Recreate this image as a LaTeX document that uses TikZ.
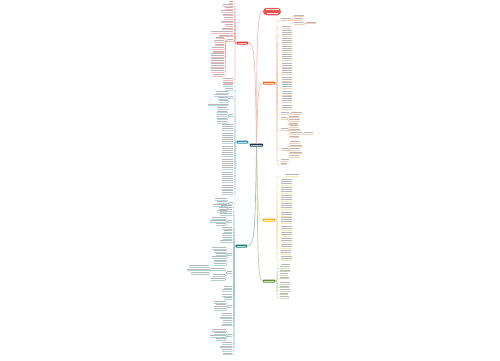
\documentclass[tikz,border=0pt]{standalone}
\usetikzlibrary{calc}
\definecolor{navyB}{HTML}{16324D}
\definecolor{redB}{HTML}{E53935}
\definecolor{oraB}{HTML}{E8702A}
\definecolor{yelB}{HTML}{EDB41A}
\definecolor{grnB}{HTML}{5E8F32}
\definecolor{teaB}{HTML}{2C8DB5}
\definecolor{tgrB}{HTML}{1B7F6E}
\tikzset{
  conn/.style={line width=0.25pt, rounded corners=0.02cm},
  tbar/.style={fill=black!28},
  bnode/.style={rectangle, inner sep=0pt, minimum width=0.24cm, minimum height=0.06cm, rounded corners=0.3pt},
  mainconn/.style={line width=0.4pt},
}
\newcommand\myRgrp[4]{%
  \coordinate (sp) at (#2,0);
  \foreach \a/\b/\w/\n in {#4}{%
    \coordinate (lf) at (\a,\b);
    \draw[conn,#3!45] (#1) -- (#1 -| sp) |- (lf);
    \draw[#3!35,line width=0.3pt] (lf) -- ++(\w,0);
    \foreach \j in {1,...,\n}{\pgfmathsetmacro\yy{\b-0.8-(\j-1)*2.3}\fill[tbar] (\a,\yy) rectangle ++(\w,-0.9);}
  }}
\newcommand\myLgrp[4]{%
  \coordinate (sp) at (#2,0);
  \foreach \a/\b/\w/\n in {#4}{%
    \coordinate (lf) at (\a,\b);
    \draw[conn,#3!45] (#1) -- (#1 -| sp) |- (lf);
    \draw[#3!35,line width=0.3pt] (lf) -- ++(-\w,0);
    \foreach \j in {1,...,\n}{\pgfmathsetmacro\yy{\b-0.8-(\j-1)*2.3}\pgfmathsetmacro\xx{\a-\w}\fill[tbar] (\xx,\yy) rectangle ++(\w,-0.9);}
  }}
\newcommand\myWbar[1]{\fill[white,opacity=0.7] ($(#1.west)+(1.5,0.45)$) rectangle ($(#1.east)+(-1.5,-0.45)$);}
\begin{document}
\begin{tikzpicture}[x=0.02cm,y=-0.02cm]
\fill[white] (0,0) rectangle (500,360);
\useasboundingbox (0,0) rectangle (500,360);

% main nodes
\node[bnode,fill=navyB,minimum width=0.26cm] (C) at (256.5,145) {};
\node[bnode,fill=redB!85,minimum width=0.36cm,minimum height=0.15cm,rounded corners=2.2pt] (T0) at (272,11.5) {};
\node[bnode,fill=oraB] (O) at (269,83) {};
\node[bnode,fill=yelB] (Y) at (269,220) {};
\node[bnode,fill=grnB] (G) at (269,281) {};
\node[bnode,fill=redB,minimum width=0.22cm] (R) at (242.5,43) {};
\node[bnode,fill=teaB,minimum width=0.22cm] (T) at (242.5,142) {};
\node[bnode,fill=tgrB,minimum width=0.22cm] (TG) at (241.5,246) {};

% main connectors
\draw[mainconn,redB!35] (C.north) .. controls (257,60) and (256,11.5) .. (T0.west);
\draw[mainconn,oraB!45] (C.north) .. controls (258,110) and (257,83) .. (O.west);
\draw[mainconn,yelB!45] (C.south) .. controls (258,190) and (257,220) .. (Y.west);
\draw[mainconn,grnB!45] (C.south) .. controls (258,240) and (257,281) .. (G.west);
\draw[mainconn,redB!35] (C.north) .. controls (255,60) and (255,43) .. (R.east);
\draw[mainconn,teaB!50] (C.west) .. controls (249,145) and (249,142) .. (T.east);
\draw[mainconn,tgrB!45] (C.south) .. controls (255,230) and (255,246) .. (TG.east);

% labels (white text bars)
\myWbar{C}\myWbar{O}\myWbar{Y}\myWbar{G}\myWbar{R}\myWbar{T}\myWbar{TG}
\fill[white,opacity=0.8] (265.5,9.3) rectangle (278.5,10.3);
\fill[white,opacity=0.8] (266.5,12.5) rectangle (277.5,13.5);

% ---------- orange branch ----------
\myRgrp{O.east}{277}{oraB}{281/20/10/1, 282/28/9/1, 282/36/10/3, 282/44/10/3, 282/52/10/3, 282/60/10/3, 282/67/10/2, 282/74/10/3, 282/81/10/2, 282/88/10/3, 282/95/10/2, 282/102/10/3, 282/109/10/2, 281/114/8/1, 281/119/6/1, 281/130/7/1, 281/150/7/1, 281/161/8/1, 281/164.5/6/1}
\coordinate (oa) at (291,20);
\myRgrp{oa}{292.5}{oraB}{294/16.5/10/1, 294/20/9/1, 294/24/10/1}
\coordinate (oa3) at (304,24);
\myRgrp{oa3}{305}{oraB}{306/23.5/10/1}
\coordinate (ob) at (289,114);
\myRgrp{ob}{290}{oraB}{291/114/11/1}
\coordinate (oc) at (287,119);
\myRgrp{oc}{288}{oraB}{289/117.5/10/1, 289/121/11/1, 289/124.5/9/1}
\coordinate (od) at (288,130);
\myRgrp{od}{289}{oraB}{290/127/8/1, 290/130.5/10/1, 290/134/12/1, 290/137.5/9/1}
\coordinate (od3) at (302,134);
\myRgrp{od3}{303}{oraB}{304/134/9/1}
\coordinate (oe) at (288,150);
\myRgrp{oe}{289}{oraB}{290/143/10/1, 290/146.5/12/1, 290/150/10/1, 290/153.5/12/1, 290/157/9/1}

% ---------- yellow branch ----------
\myRgrp{Y.east}{277}{yelB}{285/176/14/1, 281/185/11/3, 281/193/11/3, 281/201/11/3, 281/209/11/3, 281/216/11/2, 281/223/11/3, 281/230/11/2, 281/236/11/2, 281/242/11/2, 281/248/11/2, 281/254/10/2, 281/260/11/2, 281/266/9/1}

% ---------- green branch ----------
\myRgrp{G.east}{277}{grnB}{280/268/9/1, 280/271.5/10/1, 280/275/8/1, 280/278.5/9/1, 280/284/10/1, 280/287.5/9/1, 280/291/10/1, 280/294.5/8/1, 280/298/9/1}

% ---------- red left branch ----------
\myLgrp{R.west}{235}{redB}{233/3/4/1, 233/6/10/1, 233/9/8/1, 233/12/12/1, 233/15.5/10/1, 233/19/9/1, 233/22.5/12/1, 233/26/8/1, 233/29.5/11/1, 233/33/22/1, 233/36.5/14/1, 233/41/6/1, 233/80/10/1, 233/83.5/9/1}
\coordinate (rs) at (227,41);
\myLgrp{rs}{225.5}{redB}{224/38.5/8/1, 224/42/10/1, 224/45.5/9/1, 224/49/12/1, 224/52.5/11/1, 224/57/13/2, 224/62/13/2, 224/67/13/2, 224/72/13/2, 224/76/11/1}

% ---------- teal left branch ----------
\myLgrp{T.west}{235}{teaB}{233/86/10/2, 233/90/8/1, 233/98/3/1, 233/116/4/1, 233/130/11/3, 233/137/11/2, 233/143/11/3, 233/150/11/2, 233/156/11/3, 233/163/11/2, 233/169/11/3, 233/176/11/2, 233/182/11/3, 233/189/11/2, 233/194/11/2, 233/204/4/1}
\coordinate (ts1) at (230,98);
\myLgrp{ts1}{229}{teaB}{228/93/12/1, 228/96/14/1, 228/99/10/1, 228/102/9/1, 228/105.5/20/1}
\coordinate (ts2) at (229,116);
\myLgrp{ts2}{228}{teaB}{227/109/10/1, 227/112.5/10/1, 227/116/10/1, 227/119.5/10/1, 227/123/10/1}
\coordinate (ts3) at (229,204);
\myLgrp{ts3}{228}{teaB}{227/200/12/1, 227/203/10/1, 227/206/14/1, 227/209/8/1, 227/212/10/1}

% ---------- teal-green left branch ----------
\myLgrp{TG.west}{234}{tgrB}{232/207/11/1, 232/211/12/2, 232/215/12/1, 232/222/4/1, 232/229/10/1, 232/232/8/1, 232/235/10/1, 232/239/9/1, 232/242/12/1, 232/255/4/1, 232/273/5/1, 232/288/8/1, 232/291/10/1, 232/296/10/1, 232/299/8/1, 232/307/4/1, 232/315/10/1, 232/318.5/12/1, 232/322/9/1, 232/325.5/10/1, 232/336/4/1, 232/344/10/1, 232/347.5/12/1, 232/351/10/1, 232/354.5/9/1}
\coordinate (g1) at (228,222);
\myLgrp{g1}{227}{tgrB}{226/219/14/1, 226/222/16/1, 226/225/10/1}
\coordinate (g2) at (228,255);
\myLgrp{g2}{227}{tgrB}{226/249/14/1, 226/252/12/1, 226/255/10/1, 226/258/14/1, 226/261.5/12/1, 226/265/12/1}
\coordinate (g3) at (227,273);
\myLgrp{g3}{226}{tgrB}{225/270/14/1, 225/276/12/1, 225/280/14/1}
\coordinate (g31) at (211,270);
\myLgrp{g31}{210}{tgrB}{209/267/20/1, 209/270.5/22/1, 209/274/18/1}
\coordinate (g4) at (228,307);
\myLgrp{g4}{227}{tgrB}{226/303/12/1, 226/306/10/1, 226/310/12/2}
\coordinate (g5) at (228,336);
\myLgrp{g5}{227}{tgrB}{226/331/14/1, 226/334/12/1, 226/337/16/1, 226/340/10/1}
\end{tikzpicture}
\end{document}
